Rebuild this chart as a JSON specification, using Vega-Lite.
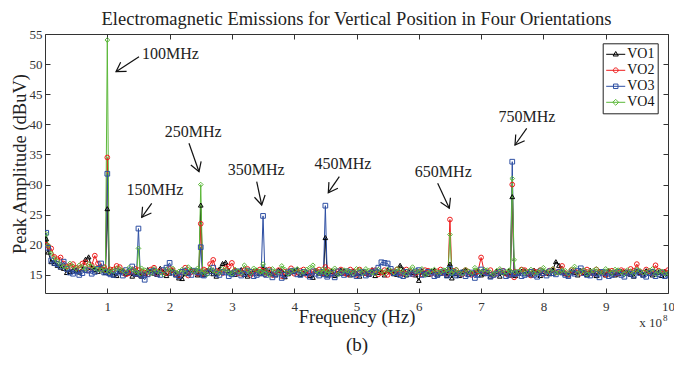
{
"$schema":"https://vega.github.io/schema/vega-lite/v6.json",
"width":623,"height":259,
"autosize":{"type":"none"},
"padding":{"left":45,"top":34,"right":6,"bottom":72},
"background":"white",
"title":{"text":"Electromagnetic Emissions for Vertical Position in Four Orientations","font":"Liberation Serif","fontSize":18.5,"fontWeight":"normal","color":"#222222","anchor":"middle","baseline":"alphabetic","offset":-15},
"config":{
"font":"Liberation Serif",
"view":{"stroke":"#333333","strokeWidth":1},
"axis":{"domain":false,"grid":false,"tickSize":-5,"tickColor":"#333333","tickWidth":1,"labelFont":"Liberation Serif","labelFontSize":13,"labelColor":"#333333","titleFont":"Liberation Serif","titleFontSize":18.5,"titleFontWeight":"normal","titleColor":"#222222","labelFlush":false}
},
"datasets":{
"em":[
{"f":2,"s":"VO1","v":21.0},{"f":10,"s":"VO1","v":17.2},{"f":20,"s":"VO1","v":16.6},{"f":30,"s":"VO1","v":16.1},{"f":40,"s":"VO1","v":15.6},{"f":50,"s":"VO1","v":15.8},{"f":60,"s":"VO1","v":16.0},{"f":70,"s":"VO1","v":18.0},{"f":80,"s":"VO1","v":15.9},{"f":90,"s":"VO1","v":16.2},{"f":97,"s":"VO1","v":15.4},{"f":100,"s":"VO1","v":26.0},{"f":103,"s":"VO1","v":15.3},{"f":110,"s":"VO1","v":15.0},{"f":120,"s":"VO1","v":15.6},{"f":130,"s":"VO1","v":15.2},{"f":140,"s":"VO1","v":14.8},{"f":147,"s":"VO1","v":15.1},{"f":150,"s":"VO1","v":15.4},{"f":153,"s":"VO1","v":15.0},{"f":160,"s":"VO1","v":15.2},{"f":170,"s":"VO1","v":15.7},{"f":180,"s":"VO1","v":15.1},{"f":190,"s":"VO1","v":15.5},{"f":200,"s":"VO1","v":15.3},{"f":210,"s":"VO1","v":15.0},{"f":220,"s":"VO1","v":14.4},{"f":230,"s":"VO1","v":15.5},{"f":240,"s":"VO1","v":15.6},{"f":247,"s":"VO1","v":15.2},{"f":250,"s":"VO1","v":26.6},{"f":253,"s":"VO1","v":15.4},{"f":260,"s":"VO1","v":15.8},{"f":270,"s":"VO1","v":15.2},{"f":280,"s":"VO1","v":16.0},{"f":290,"s":"VO1","v":17.1},{"f":300,"s":"VO1","v":15.4},{"f":310,"s":"VO1","v":15.6},{"f":320,"s":"VO1","v":15.1},{"f":330,"s":"VO1","v":15.3},{"f":340,"s":"VO1","v":15.8},{"f":347,"s":"VO1","v":15.6},{"f":350,"s":"VO1","v":16.0},{"f":353,"s":"VO1","v":15.4},{"f":360,"s":"VO1","v":15.5},{"f":370,"s":"VO1","v":15.0},{"f":380,"s":"VO1","v":15.7},{"f":390,"s":"VO1","v":15.2},{"f":400,"s":"VO1","v":15.6},{"f":410,"s":"VO1","v":15.1},{"f":420,"s":"VO1","v":15.4},{"f":430,"s":"VO1","v":14.6},{"f":440,"s":"VO1","v":15.3},{"f":447,"s":"VO1","v":15.2},{"f":450,"s":"VO1","v":21.2},{"f":453,"s":"VO1","v":15.0},{"f":460,"s":"VO1","v":15.6},{"f":470,"s":"VO1","v":15.2},{"f":480,"s":"VO1","v":15.7},{"f":490,"s":"VO1","v":15.0},{"f":500,"s":"VO1","v":15.3},{"f":510,"s":"VO1","v":15.6},{"f":520,"s":"VO1","v":15.1},{"f":530,"s":"VO1","v":14.9},{"f":540,"s":"VO1","v":15.5},{"f":550,"s":"VO1","v":15.8},{"f":560,"s":"VO1","v":15.2},{"f":570,"s":"VO1","v":16.6},{"f":580,"s":"VO1","v":15.0},{"f":590,"s":"VO1","v":15.4},{"f":600,"s":"VO1","v":14.1},{"f":610,"s":"VO1","v":15.3},{"f":620,"s":"VO1","v":15.6},{"f":630,"s":"VO1","v":15.0},{"f":640,"s":"VO1","v":15.5},{"f":647,"s":"VO1","v":15.3},{"f":650,"s":"VO1","v":16.8},{"f":653,"s":"VO1","v":14.5},{"f":660,"s":"VO1","v":15.2},{"f":670,"s":"VO1","v":15.6},{"f":680,"s":"VO1","v":15.1},{"f":690,"s":"VO1","v":15.4},{"f":700,"s":"VO1","v":15.0},{"f":710,"s":"VO1","v":15.5},{"f":720,"s":"VO1","v":15.2},{"f":730,"s":"VO1","v":14.8},{"f":740,"s":"VO1","v":15.3},{"f":747,"s":"VO1","v":15.0},{"f":750,"s":"VO1","v":28.0},{"f":753,"s":"VO1","v":15.2},{"f":760,"s":"VO1","v":15.3},{"f":770,"s":"VO1","v":15.7},{"f":780,"s":"VO1","v":15.0},{"f":790,"s":"VO1","v":15.4},{"f":800,"s":"VO1","v":15.6},{"f":810,"s":"VO1","v":15.2},{"f":820,"s":"VO1","v":17.2},{"f":830,"s":"VO1","v":15.5},{"f":840,"s":"VO1","v":15.0},{"f":850,"s":"VO1","v":15.4},{"f":860,"s":"VO1","v":15.7},{"f":870,"s":"VO1","v":15.1},{"f":880,"s":"VO1","v":15.3},{"f":890,"s":"VO1","v":15.6},{"f":900,"s":"VO1","v":15.0},{"f":910,"s":"VO1","v":15.4},{"f":920,"s":"VO1","v":15.2},{"f":930,"s":"VO1","v":15.5},{"f":940,"s":"VO1","v":15.1},{"f":950,"s":"VO1","v":15.6},{"f":960,"s":"VO1","v":15.0},{"f":970,"s":"VO1","v":15.3},{"f":980,"s":"VO1","v":15.5},{"f":990,"s":"VO1","v":14.9},{"f":1000,"s":"VO1","v":15.2},
{"f":2,"s":"VO2","v":20.0},{"f":10,"s":"VO2","v":19.4},{"f":20,"s":"VO2","v":17.6},{"f":30,"s":"VO2","v":16.9},{"f":40,"s":"VO2","v":16.5},{"f":50,"s":"VO2","v":16.2},{"f":60,"s":"VO2","v":16.9},{"f":70,"s":"VO2","v":15.8},{"f":80,"s":"VO2","v":18.2},{"f":90,"s":"VO2","v":16.0},{"f":97,"s":"VO2","v":15.8},{"f":100,"s":"VO2","v":34.5},{"f":103,"s":"VO2","v":15.6},{"f":110,"s":"VO2","v":15.9},{"f":120,"s":"VO2","v":16.3},{"f":130,"s":"VO2","v":15.1},{"f":140,"s":"VO2","v":15.6},{"f":147,"s":"VO2","v":15.2},{"f":150,"s":"VO2","v":15.8},{"f":153,"s":"VO2","v":15.0},{"f":160,"s":"VO2","v":15.4},{"f":170,"s":"VO2","v":15.9},{"f":180,"s":"VO2","v":15.2},{"f":190,"s":"VO2","v":15.6},{"f":200,"s":"VO2","v":16.0},{"f":210,"s":"VO2","v":15.3},{"f":220,"s":"VO2","v":15.5},{"f":230,"s":"VO2","v":14.9},{"f":240,"s":"VO2","v":15.6},{"f":247,"s":"VO2","v":15.5},{"f":250,"s":"VO2","v":23.5},{"f":253,"s":"VO2","v":15.2},{"f":260,"s":"VO2","v":15.6},{"f":270,"s":"VO2","v":17.5},{"f":280,"s":"VO2","v":15.4},{"f":290,"s":"VO2","v":16.1},{"f":300,"s":"VO2","v":17.0},{"f":310,"s":"VO2","v":15.3},{"f":320,"s":"VO2","v":15.8},{"f":330,"s":"VO2","v":15.0},{"f":340,"s":"VO2","v":15.5},{"f":347,"s":"VO2","v":15.3},{"f":350,"s":"VO2","v":15.7},{"f":353,"s":"VO2","v":15.1},{"f":360,"s":"VO2","v":15.9},{"f":370,"s":"VO2","v":15.4},{"f":380,"s":"VO2","v":14.8},{"f":390,"s":"VO2","v":15.6},{"f":400,"s":"VO2","v":15.2},{"f":410,"s":"VO2","v":15.7},{"f":420,"s":"VO2","v":15.0},{"f":430,"s":"VO2","v":15.5},{"f":440,"s":"VO2","v":15.9},{"f":447,"s":"VO2","v":15.4},{"f":450,"s":"VO2","v":16.3},{"f":453,"s":"VO2","v":15.5},{"f":460,"s":"VO2","v":15.1},{"f":470,"s":"VO2","v":15.6},{"f":480,"s":"VO2","v":15.3},{"f":490,"s":"VO2","v":15.9},{"f":500,"s":"VO2","v":15.0},{"f":510,"s":"VO2","v":15.5},{"f":520,"s":"VO2","v":15.2},{"f":530,"s":"VO2","v":15.8},{"f":540,"s":"VO2","v":15.4},{"f":550,"s":"VO2","v":15.0},{"f":560,"s":"VO2","v":15.6},{"f":570,"s":"VO2","v":15.3},{"f":580,"s":"VO2","v":15.9},{"f":590,"s":"VO2","v":15.1},{"f":600,"s":"VO2","v":15.5},{"f":610,"s":"VO2","v":15.8},{"f":620,"s":"VO2","v":15.2},{"f":630,"s":"VO2","v":15.6},{"f":640,"s":"VO2","v":15.3},{"f":647,"s":"VO2","v":15.6},{"f":650,"s":"VO2","v":24.2},{"f":653,"s":"VO2","v":15.4},{"f":660,"s":"VO2","v":15.8},{"f":670,"s":"VO2","v":15.1},{"f":680,"s":"VO2","v":15.5},{"f":690,"s":"VO2","v":15.3},{"f":700,"s":"VO2","v":17.9},{"f":710,"s":"VO2","v":15.4},{"f":720,"s":"VO2","v":15.0},{"f":730,"s":"VO2","v":15.6},{"f":740,"s":"VO2","v":15.2},{"f":747,"s":"VO2","v":15.5},{"f":750,"s":"VO2","v":30.0},{"f":753,"s":"VO2","v":14.6},{"f":760,"s":"VO2","v":15.4},{"f":770,"s":"VO2","v":15.8},{"f":780,"s":"VO2","v":14.9},{"f":790,"s":"VO2","v":15.5},{"f":800,"s":"VO2","v":15.2},{"f":810,"s":"VO2","v":15.7},{"f":820,"s":"VO2","v":15.4},{"f":830,"s":"VO2","v":16.5},{"f":840,"s":"VO2","v":15.1},{"f":850,"s":"VO2","v":15.6},{"f":860,"s":"VO2","v":15.3},{"f":870,"s":"VO2","v":15.9},{"f":880,"s":"VO2","v":15.2},{"f":890,"s":"VO2","v":15.5},{"f":900,"s":"VO2","v":15.0},{"f":910,"s":"VO2","v":15.7},{"f":920,"s":"VO2","v":15.3},{"f":930,"s":"VO2","v":15.6},{"f":940,"s":"VO2","v":16.0},{"f":950,"s":"VO2","v":16.8},{"f":960,"s":"VO2","v":15.4},{"f":970,"s":"VO2","v":15.6},{"f":980,"s":"VO2","v":16.6},{"f":990,"s":"VO2","v":15.3},{"f":1000,"s":"VO2","v":15.8},
{"f":2,"s":"VO3","v":22.0},{"f":10,"s":"VO3","v":17.4},{"f":20,"s":"VO3","v":16.8},{"f":30,"s":"VO3","v":17.2},{"f":40,"s":"VO3","v":15.4},{"f":50,"s":"VO3","v":15.6},{"f":60,"s":"VO3","v":15.3},{"f":70,"s":"VO3","v":15.7},{"f":80,"s":"VO3","v":15.5},{"f":90,"s":"VO3","v":16.9},{"f":97,"s":"VO3","v":15.6},{"f":100,"s":"VO3","v":31.8},{"f":103,"s":"VO3","v":15.3},{"f":110,"s":"VO3","v":15.0},{"f":120,"s":"VO3","v":15.4},{"f":130,"s":"VO3","v":15.8},{"f":140,"s":"VO3","v":16.4},{"f":147,"s":"VO3","v":15.3},{"f":150,"s":"VO3","v":22.7},{"f":153,"s":"VO3","v":15.1},{"f":160,"s":"VO3","v":14.2},{"f":170,"s":"VO3","v":15.5},{"f":180,"s":"VO3","v":15.2},{"f":190,"s":"VO3","v":15.8},{"f":200,"s":"VO3","v":17.0},{"f":210,"s":"VO3","v":15.1},{"f":220,"s":"VO3","v":15.5},{"f":230,"s":"VO3","v":15.3},{"f":240,"s":"VO3","v":15.7},{"f":247,"s":"VO3","v":15.4},{"f":250,"s":"VO3","v":19.6},{"f":253,"s":"VO3","v":15.0},{"f":260,"s":"VO3","v":15.3},{"f":270,"s":"VO3","v":16.2},{"f":280,"s":"VO3","v":15.0},{"f":290,"s":"VO3","v":15.4},{"f":300,"s":"VO3","v":15.1},{"f":310,"s":"VO3","v":15.6},{"f":320,"s":"VO3","v":15.2},{"f":330,"s":"VO3","v":15.5},{"f":340,"s":"VO3","v":15.0},{"f":347,"s":"VO3","v":15.3},{"f":350,"s":"VO3","v":24.8},{"f":353,"s":"VO3","v":15.2},{"f":360,"s":"VO3","v":15.6},{"f":370,"s":"VO3","v":15.1},{"f":380,"s":"VO3","v":14.5},{"f":390,"s":"VO3","v":15.4},{"f":400,"s":"VO3","v":15.7},{"f":410,"s":"VO3","v":15.0},{"f":420,"s":"VO3","v":15.3},{"f":430,"s":"VO3","v":15.6},{"f":440,"s":"VO3","v":14.9},{"f":447,"s":"VO3","v":15.1},{"f":450,"s":"VO3","v":26.5},{"f":453,"s":"VO3","v":14.7},{"f":460,"s":"VO3","v":15.3},{"f":470,"s":"VO3","v":15.6},{"f":480,"s":"VO3","v":15.0},{"f":490,"s":"VO3","v":15.4},{"f":500,"s":"VO3","v":14.8},{"f":510,"s":"VO3","v":15.5},{"f":520,"s":"VO3","v":15.2},{"f":530,"s":"VO3","v":15.6},{"f":540,"s":"VO3","v":17.1},{"f":550,"s":"VO3","v":16.9},{"f":560,"s":"VO3","v":15.3},{"f":570,"s":"VO3","v":15.0},{"f":580,"s":"VO3","v":15.5},{"f":590,"s":"VO3","v":15.2},{"f":600,"s":"VO3","v":15.8},{"f":610,"s":"VO3","v":15.1},{"f":620,"s":"VO3","v":15.4},{"f":630,"s":"VO3","v":15.0},{"f":640,"s":"VO3","v":15.6},{"f":647,"s":"VO3","v":15.2},{"f":650,"s":"VO3","v":16.0},{"f":653,"s":"VO3","v":15.3},{"f":660,"s":"VO3","v":14.9},{"f":670,"s":"VO3","v":15.4},{"f":680,"s":"VO3","v":15.1},{"f":690,"s":"VO3","v":14.5},{"f":700,"s":"VO3","v":15.9},{"f":710,"s":"VO3","v":15.3},{"f":720,"s":"VO3","v":15.0},{"f":730,"s":"VO3","v":15.5},{"f":740,"s":"VO3","v":14.8},{"f":747,"s":"VO3","v":15.3},{"f":750,"s":"VO3","v":33.8},{"f":753,"s":"VO3","v":15.1},{"f":760,"s":"VO3","v":15.4},{"f":770,"s":"VO3","v":15.0},{"f":780,"s":"VO3","v":15.5},{"f":790,"s":"VO3","v":14.7},{"f":800,"s":"VO3","v":15.3},{"f":810,"s":"VO3","v":15.6},{"f":820,"s":"VO3","v":15.1},{"f":830,"s":"VO3","v":15.4},{"f":840,"s":"VO3","v":14.8},{"f":850,"s":"VO3","v":15.2},{"f":860,"s":"VO3","v":16.1},{"f":870,"s":"VO3","v":15.0},{"f":880,"s":"VO3","v":15.4},{"f":890,"s":"VO3","v":14.6},{"f":900,"s":"VO3","v":15.3},{"f":910,"s":"VO3","v":15.0},{"f":920,"s":"VO3","v":15.5},{"f":930,"s":"VO3","v":14.7},{"f":940,"s":"VO3","v":15.2},{"f":950,"s":"VO3","v":15.6},{"f":960,"s":"VO3","v":15.0},{"f":970,"s":"VO3","v":15.3},{"f":980,"s":"VO3","v":14.8},{"f":990,"s":"VO3","v":15.4},{"f":1000,"s":"VO3","v":15.0},
{"f":2,"s":"VO4","v":21.8},{"f":10,"s":"VO4","v":18.6},{"f":20,"s":"VO4","v":17.3},{"f":30,"s":"VO4","v":16.4},{"f":40,"s":"VO4","v":16.9},{"f":50,"s":"VO4","v":16.0},{"f":60,"s":"VO4","v":16.3},{"f":70,"s":"VO4","v":16.8},{"f":80,"s":"VO4","v":16.1},{"f":90,"s":"VO4","v":15.8},{"f":97,"s":"VO4","v":15.7},{"f":100,"s":"VO4","v":54.0},{"f":103,"s":"VO4","v":15.5},{"f":110,"s":"VO4","v":15.6},{"f":120,"s":"VO4","v":16.0},{"f":130,"s":"VO4","v":15.4},{"f":140,"s":"VO4","v":15.9},{"f":147,"s":"VO4","v":15.5},{"f":150,"s":"VO4","v":19.4},{"f":153,"s":"VO4","v":15.2},{"f":160,"s":"VO4","v":15.8},{"f":170,"s":"VO4","v":15.3},{"f":180,"s":"VO4","v":15.6},{"f":190,"s":"VO4","v":15.1},{"f":200,"s":"VO4","v":15.7},{"f":210,"s":"VO4","v":15.4},{"f":220,"s":"VO4","v":15.9},{"f":230,"s":"VO4","v":16.3},{"f":240,"s":"VO4","v":15.5},{"f":247,"s":"VO4","v":15.8},{"f":250,"s":"VO4","v":30.0},{"f":253,"s":"VO4","v":15.4},{"f":260,"s":"VO4","v":15.1},{"f":270,"s":"VO4","v":15.7},{"f":280,"s":"VO4","v":15.3},{"f":290,"s":"VO4","v":15.9},{"f":300,"s":"VO4","v":15.2},{"f":310,"s":"VO4","v":15.6},{"f":320,"s":"VO4","v":16.6},{"f":330,"s":"VO4","v":15.3},{"f":340,"s":"VO4","v":15.8},{"f":347,"s":"VO4","v":15.6},{"f":350,"s":"VO4","v":16.8},{"f":353,"s":"VO4","v":15.3},{"f":360,"s":"VO4","v":15.0},{"f":370,"s":"VO4","v":15.6},{"f":380,"s":"VO4","v":16.5},{"f":390,"s":"VO4","v":15.2},{"f":400,"s":"VO4","v":15.8},{"f":410,"s":"VO4","v":15.4},{"f":420,"s":"VO4","v":15.9},{"f":430,"s":"VO4","v":16.6},{"f":440,"s":"VO4","v":15.3},{"f":447,"s":"VO4","v":15.5},{"f":450,"s":"VO4","v":15.9},{"f":453,"s":"VO4","v":15.2},{"f":460,"s":"VO4","v":15.7},{"f":470,"s":"VO4","v":15.1},{"f":480,"s":"VO4","v":15.8},{"f":490,"s":"VO4","v":15.5},{"f":500,"s":"VO4","v":16.0},{"f":510,"s":"VO4","v":15.3},{"f":520,"s":"VO4","v":15.7},{"f":530,"s":"VO4","v":15.2},{"f":540,"s":"VO4","v":15.6},{"f":550,"s":"VO4","v":15.9},{"f":560,"s":"VO4","v":15.4},{"f":570,"s":"VO4","v":15.8},{"f":580,"s":"VO4","v":15.1},{"f":590,"s":"VO4","v":16.3},{"f":600,"s":"VO4","v":15.5},{"f":610,"s":"VO4","v":15.0},{"f":620,"s":"VO4","v":15.7},{"f":630,"s":"VO4","v":15.4},{"f":640,"s":"VO4","v":15.8},{"f":647,"s":"VO4","v":15.5},{"f":650,"s":"VO4","v":21.7},{"f":653,"s":"VO4","v":15.3},{"f":660,"s":"VO4","v":15.9},{"f":670,"s":"VO4","v":15.2},{"f":680,"s":"VO4","v":15.6},{"f":690,"s":"VO4","v":16.2},{"f":700,"s":"VO4","v":15.4},{"f":710,"s":"VO4","v":15.8},{"f":720,"s":"VO4","v":15.1},{"f":730,"s":"VO4","v":16.0},{"f":740,"s":"VO4","v":15.5},{"f":747,"s":"VO4","v":15.6},{"f":750,"s":"VO4","v":31.0},{"f":753,"s":"VO4","v":17.5},{"f":760,"s":"VO4","v":15.6},{"f":770,"s":"VO4","v":15.3},{"f":780,"s":"VO4","v":15.9},{"f":790,"s":"VO4","v":15.4},{"f":800,"s":"VO4","v":16.2},{"f":810,"s":"VO4","v":15.6},{"f":820,"s":"VO4","v":15.3},{"f":830,"s":"VO4","v":15.8},{"f":840,"s":"VO4","v":15.2},{"f":850,"s":"VO4","v":16.4},{"f":860,"s":"VO4","v":15.5},{"f":870,"s":"VO4","v":15.1},{"f":880,"s":"VO4","v":15.7},{"f":890,"s":"VO4","v":15.4},{"f":900,"s":"VO4","v":16.0},{"f":910,"s":"VO4","v":15.3},{"f":920,"s":"VO4","v":15.8},{"f":930,"s":"VO4","v":15.2},{"f":940,"s":"VO4","v":15.6},{"f":950,"s":"VO4","v":15.9},{"f":960,"s":"VO4","v":15.4},{"f":970,"s":"VO4","v":15.7},{"f":980,"s":"VO4","v":15.1},{"f":990,"s":"VO4","v":15.6},{"f":1000,"s":"VO4","v":15.3},
{"f":5,"s":"VO1","v":18.8},{"f":15,"s":"VO1","v":16.9},{"f":25,"s":"VO1","v":16.3},{"f":35,"s":"VO1","v":15.4},{"f":45,"s":"VO1","v":15.9},{"f":55,"s":"VO1","v":15.5},{"f":65,"s":"VO1","v":17.6},{"f":75,"s":"VO1","v":16.2},{"f":85,"s":"VO1","v":15.6},{"f":95,"s":"VO1","v":15.8},{"f":105,"s":"VO1","v":15.6},{"f":115,"s":"VO1","v":14.9},{"f":125,"s":"VO1","v":15.8},{"f":135,"s":"VO1","v":15.4},{"f":145,"s":"VO1","v":15.7},{"f":155,"s":"VO1","v":14.8},{"f":165,"s":"VO1","v":15.9},{"f":175,"s":"VO1","v":15.3},{"f":185,"s":"VO1","v":16.1},{"f":195,"s":"VO1","v":14.9},{"f":205,"s":"VO1","v":15.7},{"f":215,"s":"VO1","v":14.5},{"f":225,"s":"VO1","v":15.2},{"f":235,"s":"VO1","v":15.9},{"f":245,"s":"VO1","v":15.0},{"f":255,"s":"VO1","v":15.1},{"f":265,"s":"VO1","v":15.6},{"f":275,"s":"VO1","v":14.8},{"f":285,"s":"VO1","v":16.9},{"f":295,"s":"VO1","v":15.7},{"f":305,"s":"VO1","v":15.1},{"f":315,"s":"VO1","v":15.9},{"f":325,"s":"VO1","v":14.8},{"f":335,"s":"VO1","v":15.6},{"f":345,"s":"VO1","v":15.2},{"f":355,"s":"VO1","v":15.9},{"f":365,"s":"VO1","v":15.2},{"f":375,"s":"VO1","v":15.8},{"f":385,"s":"VO1","v":14.7},{"f":395,"s":"VO1","v":15.5},{"f":405,"s":"VO1","v":15.9},{"f":415,"s":"VO1","v":15.3},{"f":425,"s":"VO1","v":14.9},{"f":435,"s":"VO1","v":15.8},{"f":445,"s":"VO1","v":15.4},{"f":455,"s":"VO1","v":15.5},{"f":465,"s":"VO1","v":14.9},{"f":475,"s":"VO1","v":15.8},{"f":485,"s":"VO1","v":15.2},{"f":495,"s":"VO1","v":15.6},{"f":505,"s":"VO1","v":14.8},{"f":515,"s":"VO1","v":15.3},{"f":525,"s":"VO1","v":15.9},{"f":535,"s":"VO1","v":15.4},{"f":545,"s":"VO1","v":15.0},{"f":555,"s":"VO1","v":15.6},{"f":565,"s":"VO1","v":15.1},{"f":575,"s":"VO1","v":15.9},{"f":585,"s":"VO1","v":15.5},{"f":595,"s":"VO1","v":15.0},{"f":605,"s":"VO1","v":15.7},{"f":615,"s":"VO1","v":15.1},{"f":625,"s":"VO1","v":15.8},{"f":635,"s":"VO1","v":15.3},{"f":645,"s":"VO1","v":14.9},{"f":655,"s":"VO1","v":15.6},{"f":665,"s":"VO1","v":14.9},{"f":675,"s":"VO1","v":15.8},{"f":685,"s":"VO1","v":15.3},{"f":695,"s":"VO1","v":15.7},{"f":705,"s":"VO1","v":15.2},{"f":715,"s":"VO1","v":14.8},{"f":725,"s":"VO1","v":15.6},{"f":735,"s":"VO1","v":15.4},{"f":745,"s":"VO1","v":15.7},{"f":755,"s":"VO1","v":14.9},{"f":765,"s":"VO1","v":15.6},{"f":775,"s":"VO1","v":15.2},{"f":785,"s":"VO1","v":15.8},{"f":795,"s":"VO1","v":14.9},{"f":805,"s":"VO1","v":15.4},{"f":815,"s":"VO1","v":15.8},{"f":825,"s":"VO1","v":16.6},{"f":835,"s":"VO1","v":15.2},{"f":845,"s":"VO1","v":15.6},{"f":855,"s":"VO1","v":15.0},{"f":865,"s":"VO1","v":15.4},{"f":875,"s":"VO1","v":15.8},{"f":885,"s":"VO1","v":14.9},{"f":895,"s":"VO1","v":15.5},{"f":905,"s":"VO1","v":15.7},{"f":915,"s":"VO1","v":15.0},{"f":925,"s":"VO1","v":15.6},{"f":935,"s":"VO1","v":15.3},{"f":945,"s":"VO1","v":14.8},{"f":955,"s":"VO1","v":15.4},{"f":965,"s":"VO1","v":15.7},{"f":975,"s":"VO1","v":15.0},{"f":985,"s":"VO1","v":15.4},{"f":995,"s":"VO1","v":15.6},
{"f":5,"s":"VO2","v":19.8},{"f":15,"s":"VO2","v":18.0},{"f":25,"s":"VO2","v":17.9},{"f":35,"s":"VO2","v":16.4},{"f":45,"s":"VO2","v":16.8},{"f":55,"s":"VO2","v":16.1},{"f":65,"s":"VO2","v":17.1},{"f":75,"s":"VO2","v":16.6},{"f":85,"s":"VO2","v":16.9},{"f":95,"s":"VO2","v":16.3},{"f":105,"s":"VO2","v":15.9},{"f":115,"s":"VO2","v":16.5},{"f":125,"s":"VO2","v":15.7},{"f":135,"s":"VO2","v":15.3},{"f":145,"s":"VO2","v":16.0},{"f":155,"s":"VO2","v":15.5},{"f":165,"s":"VO2","v":15.1},{"f":175,"s":"VO2","v":16.2},{"f":185,"s":"VO2","v":15.7},{"f":195,"s":"VO2","v":15.3},{"f":205,"s":"VO2","v":15.8},{"f":215,"s":"VO2","v":15.0},{"f":225,"s":"VO2","v":16.2},{"f":235,"s":"VO2","v":15.5},{"f":245,"s":"VO2","v":15.2},{"f":255,"s":"VO2","v":15.9},{"f":265,"s":"VO2","v":16.8},{"f":275,"s":"VO2","v":15.7},{"f":285,"s":"VO2","v":15.3},{"f":295,"s":"VO2","v":16.4},{"f":305,"s":"VO2","v":15.7},{"f":315,"s":"VO2","v":15.2},{"f":325,"s":"VO2","v":16.0},{"f":335,"s":"VO2","v":15.5},{"f":345,"s":"VO2","v":15.9},{"f":355,"s":"VO2","v":15.4},{"f":365,"s":"VO2","v":15.0},{"f":375,"s":"VO2","v":15.8},{"f":385,"s":"VO2","v":15.5},{"f":395,"s":"VO2","v":16.1},{"f":405,"s":"VO2","v":15.4},{"f":415,"s":"VO2","v":15.9},{"f":425,"s":"VO2","v":15.3},{"f":435,"s":"VO2","v":15.7},{"f":445,"s":"VO2","v":15.2},{"f":455,"s":"VO2","v":15.8},{"f":465,"s":"VO2","v":15.4},{"f":475,"s":"VO2","v":15.9},{"f":485,"s":"VO2","v":15.1},{"f":495,"s":"VO2","v":15.6},{"f":505,"s":"VO2","v":15.9},{"f":515,"s":"VO2","v":15.3},{"f":525,"s":"VO2","v":15.7},{"f":535,"s":"VO2","v":15.1},{"f":545,"s":"VO2","v":15.8},{"f":555,"s":"VO2","v":15.5},{"f":565,"s":"VO2","v":15.9},{"f":575,"s":"VO2","v":15.2},{"f":585,"s":"VO2","v":15.6},{"f":595,"s":"VO2","v":15.3},{"f":605,"s":"VO2","v":15.1},{"f":615,"s":"VO2","v":15.7},{"f":625,"s":"VO2","v":15.4},{"f":635,"s":"VO2","v":15.9},{"f":645,"s":"VO2","v":15.2},{"f":655,"s":"VO2","v":15.7},{"f":665,"s":"VO2","v":15.3},{"f":675,"s":"VO2","v":15.8},{"f":685,"s":"VO2","v":15.0},{"f":695,"s":"VO2","v":15.6},{"f":705,"s":"VO2","v":15.6},{"f":715,"s":"VO2","v":15.8},{"f":725,"s":"VO2","v":15.3},{"f":735,"s":"VO2","v":15.7},{"f":745,"s":"VO2","v":15.0},{"f":755,"s":"VO2","v":15.5},{"f":765,"s":"VO2","v":15.9},{"f":775,"s":"VO2","v":15.3},{"f":785,"s":"VO2","v":15.6},{"f":795,"s":"VO2","v":15.8},{"f":805,"s":"VO2","v":15.4},{"f":815,"s":"VO2","v":15.9},{"f":825,"s":"VO2","v":15.6},{"f":835,"s":"VO2","v":15.3},{"f":845,"s":"VO2","v":15.8},{"f":855,"s":"VO2","v":15.4},{"f":865,"s":"VO2","v":15.7},{"f":875,"s":"VO2","v":15.5},{"f":885,"s":"VO2","v":15.9},{"f":895,"s":"VO2","v":15.3},{"f":905,"s":"VO2","v":15.6},{"f":915,"s":"VO2","v":15.2},{"f":925,"s":"VO2","v":15.8},{"f":935,"s":"VO2","v":15.4},{"f":945,"s":"VO2","v":15.7},{"f":955,"s":"VO2","v":15.5},{"f":965,"s":"VO2","v":15.9},{"f":975,"s":"VO2","v":15.3},{"f":985,"s":"VO2","v":15.7},{"f":995,"s":"VO2","v":15.5},
{"f":5,"s":"VO3","v":19.5},{"f":15,"s":"VO3","v":17.0},{"f":25,"s":"VO3","v":16.4},{"f":35,"s":"VO3","v":16.0},{"f":45,"s":"VO3","v":15.2},{"f":55,"s":"VO3","v":15.0},{"f":65,"s":"VO3","v":15.8},{"f":75,"s":"VO3","v":15.2},{"f":85,"s":"VO3","v":16.0},{"f":95,"s":"VO3","v":15.4},{"f":105,"s":"VO3","v":15.1},{"f":115,"s":"VO3","v":15.6},{"f":125,"s":"VO3","v":14.9},{"f":135,"s":"VO3","v":15.5},{"f":145,"s":"VO3","v":15.2},{"f":155,"s":"VO3","v":14.9},{"f":165,"s":"VO3","v":15.1},{"f":175,"s":"VO3","v":15.7},{"f":185,"s":"VO3","v":15.0},{"f":195,"s":"VO3","v":16.2},{"f":205,"s":"VO3","v":15.4},{"f":215,"s":"VO3","v":14.8},{"f":225,"s":"VO3","v":15.7},{"f":235,"s":"VO3","v":15.0},{"f":245,"s":"VO3","v":15.5},{"f":255,"s":"VO3","v":14.9},{"f":265,"s":"VO3","v":15.6},{"f":275,"s":"VO3","v":15.2},{"f":285,"s":"VO3","v":15.5},{"f":295,"s":"VO3","v":14.8},{"f":305,"s":"VO3","v":15.4},{"f":315,"s":"VO3","v":14.9},{"f":325,"s":"VO3","v":15.7},{"f":335,"s":"VO3","v":14.8},{"f":345,"s":"VO3","v":15.4},{"f":355,"s":"VO3","v":15.0},{"f":365,"s":"VO3","v":14.6},{"f":375,"s":"VO3","v":15.4},{"f":385,"s":"VO3","v":15.0},{"f":395,"s":"VO3","v":15.6},{"f":405,"s":"VO3","v":15.1},{"f":415,"s":"VO3","v":15.5},{"f":425,"s":"VO3","v":14.7},{"f":435,"s":"VO3","v":15.2},{"f":445,"s":"VO3","v":15.5},{"f":455,"s":"VO3","v":15.0},{"f":465,"s":"VO3","v":14.6},{"f":475,"s":"VO3","v":15.3},{"f":485,"s":"VO3","v":15.6},{"f":495,"s":"VO3","v":15.1},{"f":505,"s":"VO3","v":15.3},{"f":515,"s":"VO3","v":14.9},{"f":525,"s":"VO3","v":15.4},{"f":535,"s":"VO3","v":16.2},{"f":545,"s":"VO3","v":17.0},{"f":555,"s":"VO3","v":16.0},{"f":565,"s":"VO3","v":15.4},{"f":575,"s":"VO3","v":14.8},{"f":585,"s":"VO3","v":15.2},{"f":595,"s":"VO3","v":15.6},{"f":605,"s":"VO3","v":15.0},{"f":615,"s":"VO3","v":15.5},{"f":625,"s":"VO3","v":14.8},{"f":635,"s":"VO3","v":15.3},{"f":645,"s":"VO3","v":14.9},{"f":655,"s":"VO3","v":15.5},{"f":665,"s":"VO3","v":15.2},{"f":675,"s":"VO3","v":14.8},{"f":685,"s":"VO3","v":15.4},{"f":695,"s":"VO3","v":15.0},{"f":705,"s":"VO3","v":15.5},{"f":715,"s":"VO3","v":14.7},{"f":725,"s":"VO3","v":15.2},{"f":735,"s":"VO3","v":15.6},{"f":745,"s":"VO3","v":15.0},{"f":755,"s":"VO3","v":15.3},{"f":765,"s":"VO3","v":14.8},{"f":775,"s":"VO3","v":15.2},{"f":785,"s":"VO3","v":15.0},{"f":795,"s":"VO3","v":15.6},{"f":805,"s":"VO3","v":14.9},{"f":815,"s":"VO3","v":15.3},{"f":825,"s":"VO3","v":15.5},{"f":835,"s":"VO3","v":15.0},{"f":845,"s":"VO3","v":15.4},{"f":855,"s":"VO3","v":15.7},{"f":865,"s":"VO3","v":15.3},{"f":875,"s":"VO3","v":14.9},{"f":885,"s":"VO3","v":15.2},{"f":895,"s":"VO3","v":15.5},{"f":905,"s":"VO3","v":14.8},{"f":915,"s":"VO3","v":15.3},{"f":925,"s":"VO3","v":15.0},{"f":935,"s":"VO3","v":15.4},{"f":945,"s":"VO3","v":14.9},{"f":955,"s":"VO3","v":15.3},{"f":965,"s":"VO3","v":14.7},{"f":975,"s":"VO3","v":15.5},{"f":985,"s":"VO3","v":15.1},{"f":995,"s":"VO3","v":14.8},
{"f":5,"s":"VO4","v":19.9},{"f":15,"s":"VO4","v":17.8},{"f":25,"s":"VO4","v":16.7},{"f":35,"s":"VO4","v":16.2},{"f":45,"s":"VO4","v":16.4},{"f":55,"s":"VO4","v":16.6},{"f":65,"s":"VO4","v":16.0},{"f":75,"s":"VO4","v":16.4},{"f":85,"s":"VO4","v":15.9},{"f":95,"s":"VO4","v":16.2},{"f":105,"s":"VO4","v":15.8},{"f":115,"s":"VO4","v":16.1},{"f":125,"s":"VO4","v":15.7},{"f":135,"s":"VO4","v":16.2},{"f":145,"s":"VO4","v":15.6},{"f":155,"s":"VO4","v":16.1},{"f":165,"s":"VO4","v":15.5},{"f":175,"s":"VO4","v":16.0},{"f":185,"s":"VO4","v":15.4},{"f":195,"s":"VO4","v":15.9},{"f":205,"s":"VO4","v":16.1},{"f":215,"s":"VO4","v":15.6},{"f":225,"s":"VO4","v":15.3},{"f":235,"s":"VO4","v":15.8},{"f":245,"s":"VO4","v":16.1},{"f":255,"s":"VO4","v":15.7},{"f":265,"s":"VO4","v":16.1},{"f":275,"s":"VO4","v":15.5},{"f":285,"s":"VO4","v":16.0},{"f":295,"s":"VO4","v":15.4},{"f":305,"s":"VO4","v":15.9},{"f":315,"s":"VO4","v":15.3},{"f":325,"s":"VO4","v":15.8},{"f":335,"s":"VO4","v":16.1},{"f":345,"s":"VO4","v":15.5},{"f":355,"s":"VO4","v":15.7},{"f":365,"s":"VO4","v":16.0},{"f":375,"s":"VO4","v":15.4},{"f":385,"s":"VO4","v":15.9},{"f":395,"s":"VO4","v":15.6},{"f":405,"s":"VO4","v":16.0},{"f":415,"s":"VO4","v":15.5},{"f":425,"s":"VO4","v":16.2},{"f":435,"s":"VO4","v":15.7},{"f":445,"s":"VO4","v":15.9},{"f":455,"s":"VO4","v":15.6},{"f":465,"s":"VO4","v":16.1},{"f":475,"s":"VO4","v":15.4},{"f":485,"s":"VO4","v":15.7},{"f":495,"s":"VO4","v":15.3},{"f":505,"s":"VO4","v":15.8},{"f":515,"s":"VO4","v":16.0},{"f":525,"s":"VO4","v":15.4},{"f":535,"s":"VO4","v":15.9},{"f":545,"s":"VO4","v":15.3},{"f":555,"s":"VO4","v":15.7},{"f":565,"s":"VO4","v":16.0},{"f":575,"s":"VO4","v":15.4},{"f":585,"s":"VO4","v":15.8},{"f":595,"s":"VO4","v":15.6},{"f":605,"s":"VO4","v":16.0},{"f":615,"s":"VO4","v":15.3},{"f":625,"s":"VO4","v":15.9},{"f":635,"s":"VO4","v":15.5},{"f":645,"s":"VO4","v":15.9},{"f":655,"s":"VO4","v":15.6},{"f":665,"s":"VO4","v":15.4},{"f":675,"s":"VO4","v":15.9},{"f":685,"s":"VO4","v":15.3},{"f":695,"s":"VO4","v":15.7},{"f":705,"s":"VO4","v":15.9},{"f":715,"s":"VO4","v":15.4},{"f":725,"s":"VO4","v":15.7},{"f":735,"s":"VO4","v":15.3},{"f":745,"s":"VO4","v":15.8},{"f":755,"s":"VO4","v":15.5},{"f":765,"s":"VO4","v":15.9},{"f":775,"s":"VO4","v":15.6},{"f":785,"s":"VO4","v":15.3},{"f":795,"s":"VO4","v":15.8},{"f":805,"s":"VO4","v":15.5},{"f":815,"s":"VO4","v":16.0},{"f":825,"s":"VO4","v":15.4},{"f":835,"s":"VO4","v":15.7},{"f":845,"s":"VO4","v":15.9},{"f":855,"s":"VO4","v":15.3},{"f":865,"s":"VO4","v":15.8},{"f":875,"s":"VO4","v":15.6},{"f":885,"s":"VO4","v":16.0},{"f":895,"s":"VO4","v":15.4},{"f":905,"s":"VO4","v":15.7},{"f":915,"s":"VO4","v":15.9},{"f":925,"s":"VO4","v":15.5},{"f":935,"s":"VO4","v":15.8},{"f":945,"s":"VO4","v":15.3},{"f":955,"s":"VO4","v":15.7},{"f":965,"s":"VO4","v":15.4},{"f":975,"s":"VO4","v":16.0},{"f":985,"s":"VO4","v":15.6},{"f":995,"s":"VO4","v":15.2}
],
"lab":[
{"f":201.4,"v":51.7,"t":"100MHz"},{"f":176.6,"v":29.1,"t":"150MHz"},{"f":238.0,"v":38.8,"t":"250MHz"},{"f":339.0,"v":32.5,"t":"350MHz"},{"f":478.3,"v":33.5,"t":"450MHz"},{"f":639.3,"v":32.1,"t":"650MHz"},{"f":773.7,"v":41.3,"t":"750MHz"}
],
"arr":[
{"f":150.9,"v":51.23,"f2":114.0,"v2":48.74,"a":-123.1},{"f":171.3,"v":26.89,"f2":155.2,"v2":24.57,"a":-144.5},{"f":231.1,"v":36.85,"f2":247.2,"v2":32.14,"a":160.6},{"f":339.8,"v":30.48,"f2":347.8,"v2":26.61,"a":167.9},{"f":472.4,"v":31.31,"f2":454.7,"v2":28.65,"a":-145.5},{"f":630.3,"v":30.21,"f2":649.0,"v2":26.06,"a":155.1},{"f":773.2,"v":39.34,"f2":754.4,"v2":36.57,"a":-145.0}
]
},
"layer":[
{"data":{"name":"em"},
 "mark":{"type":"line","strokeWidth":1,"clip":true},
 "encoding":{
  "x":{"field":"f","type":"quantitative","scale":{"domain":[0,1000],"nice":false,"zero":false},"axis":{"orient":"bottom","values":[100,200,300,400,500,600,700,800,900,1000],"labelExpr":"datum.value/100","labelPadding":12,"title":"Frequency (Hz)","titlePadding":-5.5}},
  "y":{"field":"v","type":"quantitative","scale":{"domain":[12,55],"nice":false,"zero":false},"axis":{"orient":"left","values":[15,20,25,30,35,40,45,50,55],"labelPadding":8,"title":"Peak Amplitude (dBuV)","titlePadding":0}},
  "color":{"field":"s","type":"nominal","scale":{"domain":["VO1","VO2","VO3","VO4"],"range":["#000000","#ee1c1c","#2e4fa3","#5cb83a"]},
   "legend":{"orient":"none","legendX":557.7,"legendY":9.3,"title":null,"strokeColor":"#222222","fillColor":"white","padding":3,"rowPadding":0,"clipHeight":16,"labelFont":"Liberation Serif","labelFontSize":14,"labelColor":"#111111","labelOffset":6.5,"symbolSize":196,"symbolStrokeWidth":1,
    "encode":{"symbols":{"update":{"fill":{"value":"transparent"},"shape":{"signal":"datum.value === 'VO1' ? 'M-1,0H1.72M0.36,-0.4L0.73,0.24L-0.01,0.24Z' : datum.value === 'VO2' ? 'M-1,0H1.72M0.7,0A0.34,0.34 0 1,1 0.02,0A0.34,0.34 0 1,1 0.7,0' : datum.value === 'VO3' ? 'M-1,0H1.72M0.04,-0.32H0.68V0.32H0.04Z' : 'M-1,0H1.72M0.36,-0.42L0.78,0L0.36,0.42L-0.06,0Z'"}}}}}}
 }
},
{"data":{"name":"em"},
 "transform":[{"filter":{"field":"s","equal":"VO1"}}],
 "mark":{"type":"point","shape":"triangle-up","filled":false,"size":22,"strokeWidth":1,"opacity":1,"clip":true},
 "encoding":{
  "x":{"field":"f","type":"quantitative","axis":{"orient":"top","labels":false,"title":null,"values":[100,200,300,400,500,600,700,800,900,1000]}},
  "y":{"field":"v","type":"quantitative","axis":{"orient":"right","labels":false,"title":null,"values":[15,20,25,30,35,40,45,50,55]}},
  "color":{"field":"s","type":"nominal"}
 }
},
{"data":{"name":"em"},
 "transform":[{"filter":{"field":"s","equal":"VO2"}}],
 "mark":{"type":"point","shape":"circle","filled":false,"size":22,"strokeWidth":1,"opacity":1,"clip":true},
 "encoding":{
  "x":{"field":"f","type":"quantitative","axis":null},
  "y":{"field":"v","type":"quantitative","axis":null},
  "color":{"field":"s","type":"nominal"}
 }
},
{"data":{"name":"em"},
 "transform":[{"filter":{"field":"s","equal":"VO3"}}],
 "mark":{"type":"point","shape":"square","filled":false,"size":22,"strokeWidth":1,"opacity":1,"clip":true},
 "encoding":{
  "x":{"field":"f","type":"quantitative","axis":null},
  "y":{"field":"v","type":"quantitative","axis":null},
  "color":{"field":"s","type":"nominal"}
 }
},
{"data":{"name":"em"},
 "transform":[{"filter":{"field":"s","equal":"VO4"}}],
 "mark":{"type":"point","shape":"diamond","filled":false,"size":22,"strokeWidth":1,"opacity":1,"clip":true},
 "encoding":{
  "x":{"field":"f","type":"quantitative","axis":null},
  "y":{"field":"v","type":"quantitative","axis":null},
  "color":{"field":"s","type":"nominal"}
 }
},
{"data":{"name":"arr"},
 "mark":{"type":"rule","color":"#111111","strokeWidth":1.2},
 "encoding":{
  "x":{"field":"f","type":"quantitative","axis":null},
  "y":{"field":"v","type":"quantitative","axis":null},
  "x2":{"field":"f2"},
  "y2":{"field":"v2"}
 }
},
{"data":{"name":"arr"},
 "mark":{"type":"point","shape":"M-0.6,1L0,0L0.6,1","size":330,"filled":false,"strokeWidth":1.2,"color":"#111111","opacity":1},
 "encoding":{
  "x":{"field":"f2","type":"quantitative","axis":null},
  "y":{"field":"v2","type":"quantitative","axis":null},
  "angle":{"field":"a","type":"quantitative","scale":null}
 }
},
{"data":{"name":"lab"},
 "mark":{"type":"text","font":"Liberation Serif","fontSize":16,"color":"#222222","align":"center","baseline":"middle"},
 "encoding":{
  "x":{"field":"f","type":"quantitative","axis":null},
  "y":{"field":"v","type":"quantitative","axis":null},
  "text":{"field":"t"}
 }
},
{"data":{"values":[{"f":990.4,"v":7.0,"t":"x 10"}]},
 "mark":{"type":"text","font":"Liberation Serif","fontSize":13,"color":"#333333","align":"right","baseline":"middle"},
 "encoding":{"x":{"field":"f","type":"quantitative","axis":null},"y":{"field":"v","type":"quantitative","axis":null},"text":{"field":"t"}}
},
{"data":{"values":[{"f":992,"v":7.85,"t":"8"}]},
 "mark":{"type":"text","font":"Liberation Serif","fontSize":9,"color":"#333333","align":"left","baseline":"middle"},
 "encoding":{"x":{"field":"f","type":"quantitative","axis":null},"y":{"field":"v","type":"quantitative","axis":null},"text":{"field":"t"}}
},
{"data":{"values":[{"f":500.8,"v":3.36,"t":"(b)"}]},
 "mark":{"type":"text","font":"Liberation Serif","fontSize":19,"color":"#222222","align":"center","baseline":"middle"},
 "encoding":{"x":{"field":"f","type":"quantitative","axis":null},"y":{"field":"v","type":"quantitative","axis":null},"text":{"field":"t"}}
}
],
"resolve":{"axis":{"x":"independent","y":"independent"}}
}
